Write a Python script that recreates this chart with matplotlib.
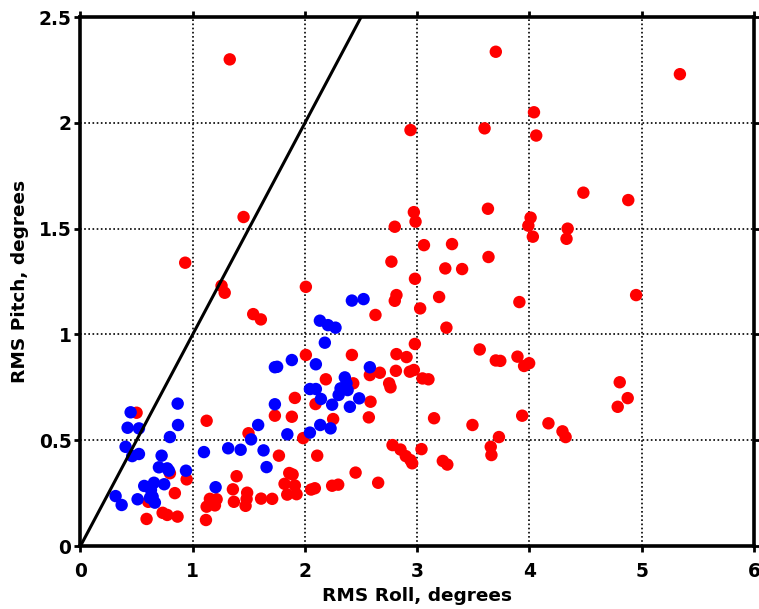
import matplotlib
matplotlib.use("Agg")
import matplotlib.pyplot as plt

plt.rcParams['font.family'] = ['DejaVu Sans']

red_x = [1.33, 3.70, 5.34, 4.04, 2.94, 3.60, 4.06, 4.48, 4.88, 2.97, 2.985, 2.80, 3.63, 4.01, 3.99,
         4.34, 4.03, 4.33, 3.06, 3.31, 2.77, 3.635, 3.25, 3.40, 2.98, 2.815, 2.80, 3.195, 3.91, 4.95,
         1.453, 0.933, 1.257, 1.285, 2.008, 1.539, 1.607, 2.628, 3.026, 3.26, 2.979, 2.008, 2.418,
         2.815, 2.905, 3.557, 3.70, 3.74, 3.893, 3.952, 3.997, 2.186, 2.578, 2.667, 2.81, 2.934, 2.97,
         3.047, 3.10, 2.75, 2.762, 2.43, 4.804, 4.875, 4.786, 1.91, 2.094, 2.584, 2.251, 2.569, 3.15,
         3.492, 3.935, 4.169, 4.294, 4.322, 3.728, 1.732, 1.883, 1.124, 0.50, 1.497, 1.984, 1.768,
         2.109, 2.78, 2.851, 2.898, 2.94, 2.955, 3.038, 3.228, 3.268, 3.655, 3.661, 1.86, 1.89,
         2.451, 2.652, 1.818, 1.91, 1.842, 1.925, 2.055, 2.088, 2.242, 2.296, 1.609, 1.708, 1.391,
         1.358, 1.485, 1.48, 1.471, 1.367, 1.153, 1.213, 1.124, 1.198, 1.118, 0.797, 0.946, 0.841,
         0.604, 0.589, 0.732, 0.773, 0.865]
red_y = [2.30, 2.336, 2.23, 2.05, 1.966, 1.974, 1.94, 1.67, 1.635, 1.578, 1.533, 1.509, 1.594, 1.552, 1.514,
         1.50, 1.462, 1.452, 1.422, 1.427, 1.344, 1.366, 1.312, 1.309, 1.263, 1.186, 1.159, 1.177, 1.153, 1.186,
         1.555, 1.339, 1.230, 1.197, 1.225, 1.096, 1.071, 1.092, 1.123, 1.032, 0.955, 0.903, 0.903,
         0.907, 0.893, 0.929, 0.877, 0.875, 0.895, 0.851, 0.864, 0.788, 0.808, 0.819, 0.828, 0.824, 0.832,
         0.792, 0.788, 0.769, 0.75, 0.769, 0.774, 0.699, 0.658, 0.70, 0.671, 0.682, 0.60, 0.608, 0.604,
         0.572, 0.616, 0.58, 0.542, 0.515, 0.515, 0.616, 0.611, 0.592, 0.63, 0.533, 0.51, 0.427,
         0.427, 0.477, 0.456, 0.425, 0.406, 0.391, 0.458, 0.402, 0.385, 0.469, 0.43, 0.345, 0.338,
         0.347, 0.299, 0.294, 0.286, 0.243, 0.245, 0.267, 0.273, 0.285, 0.290, 0.224, 0.223, 0.33,
         0.268, 0.252, 0.222, 0.19, 0.209, 0.223, 0.221, 0.186, 0.192, 0.123, 0.344, 0.315, 0.25,
         0.209, 0.128, 0.157, 0.147, 0.139]

blue_x = [2.418, 2.522, 2.133, 2.205, 2.272, 2.177, 2.097, 1.883, 1.752, 1.732, 2.578, 2.044, 2.097,
          2.355, 2.317, 2.37, 2.38, 2.30, 2.142, 2.242, 2.40, 2.483, 1.732, 2.136, 2.228, 1.583, 1.843,
          2.044, 1.52, 1.631, 1.658, 1.316, 1.427, 1.10, 1.204, 0.866, 0.447, 0.42, 0.521, 0.869, 0.797,
          0.402, 0.461, 0.521, 0.723, 0.699, 0.773, 0.788, 0.94, 0.568, 0.655, 0.746, 0.628, 0.643,
          0.663, 0.619, 0.313, 0.367, 0.509]
blue_y = [1.16, 1.167, 1.065, 1.044, 1.032, 0.961, 0.859, 0.879, 0.847, 0.845, 0.845, 0.742, 0.742,
          0.797, 0.745, 0.769, 0.737, 0.714, 0.695, 0.668, 0.658, 0.698, 0.67, 0.572, 0.556, 0.572, 0.528,
          0.536, 0.504, 0.452, 0.373, 0.462, 0.455, 0.444, 0.278, 0.673, 0.632, 0.559, 0.556, 0.572, 0.515,
          0.469, 0.425, 0.435, 0.427, 0.372, 0.367, 0.356, 0.356, 0.284, 0.299, 0.292, 0.265, 0.233,
          0.205, 0.228, 0.236, 0.194, 0.221]

line_x = [0, 3]
line_y = [0, 3]
x_ticks = [0, 1, 2, 3, 4, 5, 6]
y_ticks = [0, 0.5, 1, 1.5, 2, 2.5]
y_tick_labels = ['0', '0.5', '1', '1.5', '2', '2.5']

fig = plt.figure(figsize=(7.59, 6.09), dpi=100)
ax = fig.add_axes([0.106, 0.1034, 0.8874, 0.8686])

ax.grid(True, color='black', linestyle=(0, (1, 1.5)), linewidth=1.2)
ax.set_axisbelow(True)

ax.scatter(red_x, red_y, s=80, c='#ff0000', edgecolors='none', zorder=3)
ax.scatter(blue_x, blue_y, s=80, c='#0000ff', edgecolors='none', zorder=4)
ax.plot(line_x, line_y, color='black', linewidth=2.2, zorder=5)

ax.set_xlim(0, 6)
ax.set_ylim(0, 2.5)
ax.set_xticks(x_ticks)
ax.set_xticklabels([str(t) for t in x_ticks])
ax.set_yticks(y_ticks)
ax.set_yticklabels(y_tick_labels)

for sp in ax.spines.values():
    sp.set_linewidth(2.6)
    sp.set_zorder(6)

ax.tick_params(axis='both', which='major', direction='out', length=4, width=2,
               labelsize=13.4, top=True, right=True)
ax.tick_params(axis='x', pad=7.5)
ax.tick_params(axis='y', pad=2.5)
for lab in ax.get_xticklabels() + ax.get_yticklabels():
    lab.set_fontweight('bold')

ax.set_xlabel('RMS Roll, degrees', fontsize=13.3, fontweight='bold', labelpad=4)
ax.set_ylabel('RMS Pitch, degrees', fontsize=13.3, fontweight='bold', labelpad=7)

fig.savefig('out.png', dpi=100)
